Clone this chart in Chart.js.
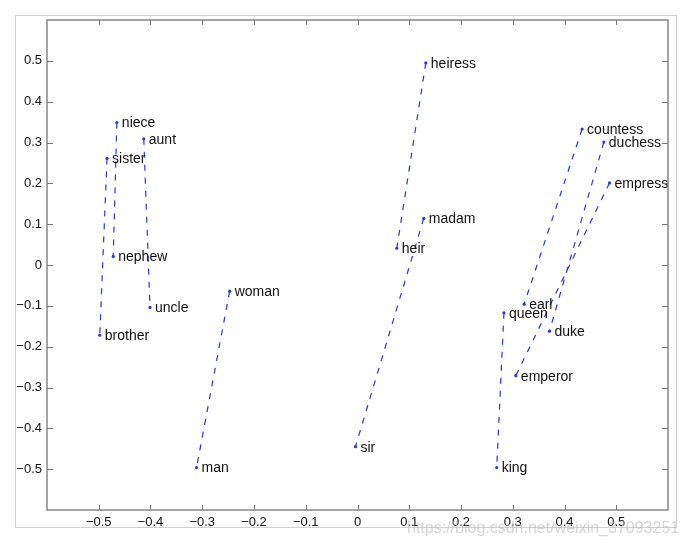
<!DOCTYPE html>
<html>
<head>
<meta charset="utf-8">
<script src="https://cdn.jsdelivr.net/npm/chart.js@4.4.1/dist/chart.umd.min.js"></script>
<style>
  html, body { margin: 0; padding: 0; background: #fff; }
  canvas { display: block; }
</style>
</head>
<body>
<canvas id="chart" width="686" height="545"></canvas>
<script>
// word embedding projection: each word and its 2-D position
const words = ['niece', 'aunt', 'sister', 'nephew', 'uncle', 'brother', 'woman', 'man',
  'heiress', 'madam', 'heir', 'sir', 'countess', 'duchess', 'empress', 'earl', 'queen',
  'duke', 'emperor', 'king'];
const xVals = [-0.465, -0.413, -0.484, -0.472, -0.401, -0.498, -0.247, -0.311,
  0.132, 0.128, 0.076, -0.004, 0.434, 0.476, 0.487, 0.322, 0.283,
  0.371, 0.306, 0.269];
const yVals = [0.349, 0.309, 0.261, 0.021, -0.104, -0.172, -0.064, -0.496,
  0.495, 0.114, 0.041, -0.445, 0.333, 0.301, 0.201, -0.096, -0.117,
  -0.162, -0.271, -0.496];

// female -> male pairs joined by dashed lines
const pairs = [
  ['niece', 'nephew'], ['aunt', 'uncle'], ['sister', 'brother'], ['woman', 'man'],
  ['heiress', 'heir'], ['madam', 'sir'], ['countess', 'earl'], ['duchess', 'duke'],
  ['empress', 'emperor'], ['queen', 'king']
];

const xTicks = [-0.5, -0.4, -0.3, -0.2, -0.1, 0, 0.1, 0.2, 0.3, 0.4, 0.5];
const yTicks = [-0.5, -0.4, -0.3, -0.2, -0.1, 0, 0.1, 0.2, 0.3, 0.4, 0.5];

const BLUE = 'rgb(35, 55, 235)';
const FONT = '"Liberation Sans", Arial, Helvetica, sans-serif';

const datasets = pairs.map(pair => {
  const idx = pair.map(w => words.indexOf(w));
  return {
    label: pair.join('-'),
    words: pair,
    data: idx.map(i => ({ x: xVals[i], y: yVals[i] })),
    showLine: true,
    borderColor: BLUE,
    borderWidth: 1.2,
    borderDash: [6, 7],
    pointRadius: 1.6,
    pointBackgroundColor: BLUE,
    pointBorderWidth: 0
  };
});

function fmt(v) {
  const r = Math.round(v * 10) / 10;
  if (!xTicks.includes(r)) return '';
  if (r === 0) return '0';
  return r.toFixed(1).replace('-', '\u2212');
}

// frame, inside ticks on all four sides, outer box and watermark
const framePlugin = {
  id: 'frame',
  beforeDraw(chart) {
    const ctx = chart.ctx;
    ctx.save();
    ctx.fillStyle = '#fff';
    ctx.fillRect(0, 0, chart.width, chart.height);
    ctx.strokeStyle = '#d0d0d0';
    ctx.lineWidth = 1;
    ctx.strokeRect(15.5, 15.5, 661, 512);
    ctx.restore();
  },
  afterDraw(chart) {
    const { ctx, chartArea: a, scales } = chart;
    ctx.save();
    ctx.strokeStyle = '#767676';
    ctx.lineWidth = 1.3;
    ctx.strokeRect(a.left, a.top, a.right - a.left, a.bottom - a.top);
    ctx.lineWidth = 1;
    ctx.beginPath();
    xTicks.forEach(v => {
      const px = Math.round(scales.x.getPixelForValue(v)) + 0.5;
      ctx.moveTo(px, a.bottom); ctx.lineTo(px, a.bottom - 5);
      ctx.moveTo(px, a.top); ctx.lineTo(px, a.top + 5);
    });
    yTicks.forEach(v => {
      const py = Math.round(scales.y.getPixelForValue(v)) + 0.5;
      ctx.moveTo(a.left, py); ctx.lineTo(a.left + 6, py);
      ctx.moveTo(a.right, py); ctx.lineTo(a.right - 6, py);
    });
    ctx.stroke();

    ctx.fillStyle = 'rgba(185, 185, 185, 0.6)';
    ctx.font = '16px ' + FONT;
    ctx.textBaseline = 'alphabetic';
    ctx.fillText('https://blog.csdn.net/weixin_37093251', 407, 533);
    ctx.restore();
  }
};

// word labels next to their points
const labelPlugin = {
  id: 'wordLabels',
  afterDatasetsDraw(chart) {
    const ctx = chart.ctx;
    ctx.save();
    ctx.font = '14px ' + FONT;
    ctx.fillStyle = '#111';
    ctx.textAlign = 'left';
    ctx.textBaseline = 'middle';
    chart.data.datasets.forEach((ds, i) => {
      chart.getDatasetMeta(i).data.forEach((pt, j) => {
        ctx.fillText(ds.words[j], pt.x + 5, pt.y + 1);
      });
    });
    ctx.restore();
  }
};

new Chart(document.getElementById('chart'), {
  type: 'scatter',
  data: { datasets },
  options: {
    responsive: false,
    animation: false,
    layout: { padding: { top: 20, right: 18, left: 0, bottom: 0 } },
    plugins: {
      legend: { display: false },
      tooltip: { enabled: false }
    },
    scales: {
      x: {
        min: -0.6,
        max: 0.6,
        border: { display: false },
        grid: { display: false, drawTicks: false },
        ticks: {
          stepSize: 0.1,
          autoSkip: false,
          maxRotation: 0,
          padding: 5,
          color: '#111',
          font: { family: FONT, size: 13 },
          callback: v => fmt(v)
        },
        afterFit: s => { s.height = 35; }
      },
      y: {
        min: -0.6,
        max: 0.6,
        border: { display: false },
        grid: { display: false, drawTicks: false },
        ticks: {
          stepSize: 0.1,
          autoSkip: false,
          padding: 5,
          color: '#111',
          font: { family: FONT, size: 13 },
          callback: v => fmt(v)
        },
        afterFit: s => { s.width = 47; }
      }
    }
  },
  plugins: [framePlugin, labelPlugin]
});
</script>
</body>
</html>
